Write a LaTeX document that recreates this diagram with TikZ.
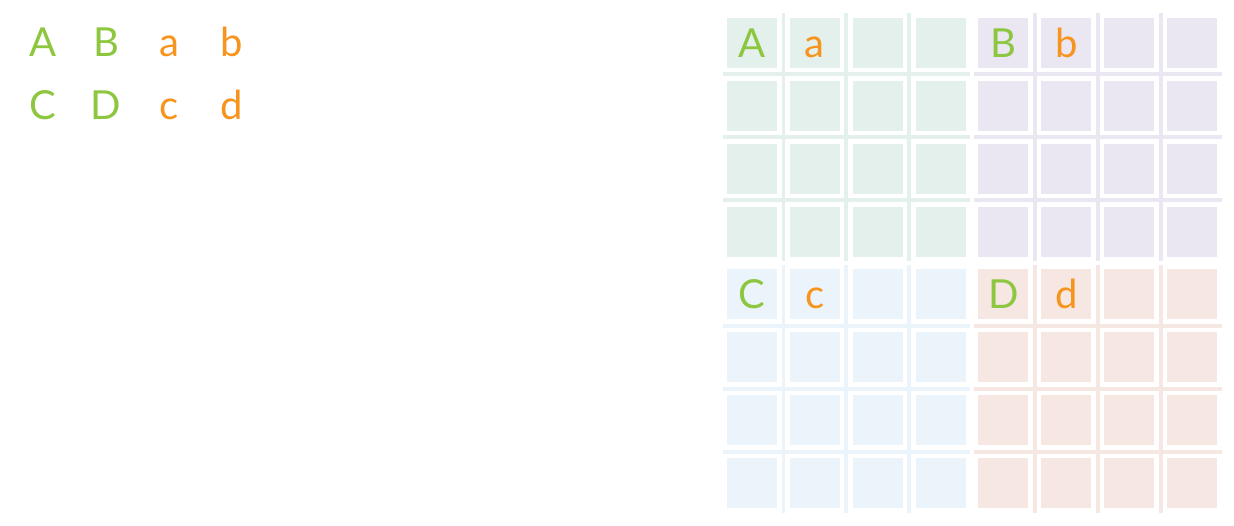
\documentclass[tikz,border=0pt]{standalone}
\usepackage{fontspec}
\setmainfont{Lato}
\usepackage{tikz}

\definecolor{capgreen}{RGB}{141,198,63}
\definecolor{loworange}{RGB}{247,148,29}
\definecolor{tealbg}{RGB}{228,240,236}
\definecolor{lilacbg}{RGB}{234,231,243}
\definecolor{skybg}{RGB}{236,244,251}
\definecolor{peachbg}{RGB}{246,231,227}

\begin{document}
\begin{tikzpicture}[x=1pt, y=-1pt,
		cell/.style={draw=white, line width=4.5pt, minimum size=54.5pt, inner sep=0pt},
		capl/.style={text=capgreen, font=\fontsize{40}{40}\selectfont, anchor=base, inner sep=0pt},
		lowl/.style={text=loworange, font=\fontsize{40}{40}\selectfont, anchor=base, inner sep=0pt}]
				\useasboundingbox (0,0) rectangle (1234,526);
				
				\path (43, 57) node[capl] (kA){A}
				(106, 57) node[capl] (kB){B}
				(169, 57) node[lowl] (ka){a}
				(232, 57) node[lowl] (kb){b}
				(43, 120) node[capl] (kC){C}
				(106, 120) node[capl] (kD){D}
				(169, 120) node[lowl] (kc){c}
				(232, 120) node[lowl] (kd){d};
				
				\foreach \qx/\qy/\col in {0/0/tealbg, 4/0/lilacbg, 0/4/skybg, 4/4/peachbg}{
					\fill[\col] ({722.5+\qx*62.86}, {13.5+\qy*62.86}) rectangle +(247.6, 247.6);
					\foreach \i in {0,...,3}
					\foreach \j in {0,...,3}{
						\pgfmathtruncatemacro\cx{\qx+\i}
						\pgfmathtruncatemacro\cy{\qy+\j}
						\node[cell, fill=\col] (c-\cx-\cy) at ({752+\cx*62.86}, {43+\cy*62.86}) {};
					}
				}
				
				\path ([yshift=-14.5pt]c-0-0.center) node[capl] (gA){A}
				([yshift=-14.5pt]c-1-0.center) node[lowl] (ga){a}
				([yshift=-14.5pt]c-4-0.center) node[capl] (gB){B}
				([yshift=-14.5pt]c-5-0.center) node[lowl] (gb){b}
				([yshift=-14.5pt]c-0-4.center) node[capl] (gC){C}
				([yshift=-14.5pt]c-1-4.center) node[lowl] (gc){c}
				([yshift=-14.5pt]c-4-4.center) node[capl] (gD){D}
				([yshift=-14.5pt]c-5-4.center) node[lowl] (gd){d};
			\end{tikzpicture}
\end{document}
